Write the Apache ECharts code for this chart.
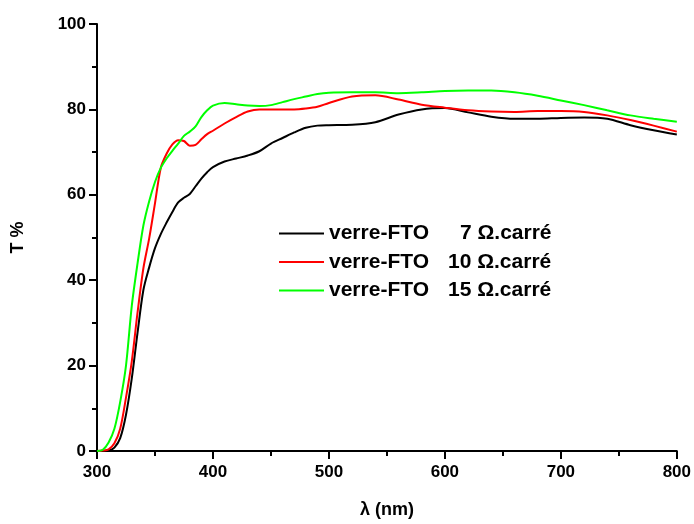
<!DOCTYPE html>
<html>
<head>
<meta charset="utf-8">
<script src="https://cdn.jsdelivr.net/npm/echarts@6/dist/echarts.min.js"></script>
<style>
html,body{margin:0;padding:0;background:#fff;}
#chart{width:694px;height:524px;}
</style>
</head>
<body>
<div id="chart"></div>
<script>
// Wavelength grid (nm)
var wavelengths = [300,305,310,315,320,325,330,335,340,345,350,355,360,365,370,375,380,385,390,395,400,410,420,430,440,450,460,470,480,490,500,520,540,560,580,600,620,640,660,680,700,720,740,760,780,800];

// Transmittance (%)
var fto7 = [0,0,0.1,0.8,3,8.5,17,27.8,37.7,43,47.5,50.8,53.5,56,58.2,59.3,60.2,62,63.8,65.3,66.5,67.8,68.5,69.2,70.2,72,73.3,74.6,75.7,76.2,76.3,76.4,77,78.8,80,80.3,79.3,78.3,77.8,77.8,78,78.1,77.8,76.3,75.1,74.1];
var fto10 = [0,0.1,0.4,1.8,5.2,12.5,21,32.5,42.8,49.8,58,66.3,69.6,71.8,72.8,72.6,71.5,71.7,73,74.2,75,76.7,78.2,79.5,80,80,80,80,80.2,80.6,81.5,83,83.3,82.3,81.1,80.4,79.8,79.5,79.4,79.6,79.6,79.4,78.6,77.5,76.2,74.8];
var fto15 = [0,0.3,2,5.2,11.5,20,34,44,52.8,58.5,63,66.3,68.5,70.3,72,73.8,74.8,76,78.2,79.8,80.9,81.5,81.2,80.9,80.8,81,81.7,82.4,83,83.6,83.9,84,84,83.8,84,84.3,84.4,84.4,84,83.2,82.1,81,79.8,78.6,77.8,77.1];

var seriesPrefix = 'verre-FTO';
var seriesNums = ['7','10','15'];
var seriesUnit = ' Ω.carré';
var seriesColors = ['#000000','#ff0000','#00ff00'];
var seriesData = [fto7, fto10, fto15];

var xTicks = {min:300, max:800, interval:100};
var yTicks = {min:0, max:100, interval:20};

var FONT = 'Liberation Sans, Arial, sans-serif';
var LFS = 21;

function pairs(ys){
  return wavelengths.map(function(x,i){return [x, ys[i]];});
}

var names = seriesNums.map(function(n){return seriesPrefix + ' ' + n + seriesUnit;});

var series = seriesData.map(function(d,i){
  return {
    name: names[i],
    type: 'line',
    data: pairs(d),
    symbol: 'none',
    smooth: 0.3,
    lineStyle: {color: seriesColors[i], width: 2},
    itemStyle: {color: seriesColors[i]},
    animation: false
  };
});

function tk(extra){
  var o = {fontFamily: FONT, fontWeight: 'bold', fontSize: LFS, color: '#000', lineHeight: 20};
  for (var k in extra) o[k] = extra[k];
  return o;
}

var chart = echarts.init(document.getElementById('chart'), null, {renderer:'canvas'});
chart.setOption({
  backgroundColor: '#ffffff',
  animation: false,
  grid: {left: 97, right: 13, top: 24, bottom: 67, containLabel: false},
  legend: {
    orient: 'vertical',
    left: 279,
    top: 223,
    padding: 0,
    itemGap: 7.5,
    itemWidth: 45,
    itemHeight: 2,
    icon: 'rect',
    data: names,
    formatter: function(name){
      var i = names.indexOf(name);
      var sp = seriesNums[i].length === 1 ? 's1' : 's2';
      return '{a|' + seriesPrefix + '}{' + sp + '| }{b|' + seriesNums[i] + '}{c|' + seriesUnit + '}';
    },
    textStyle: {
      fontFamily: FONT, fontWeight: 'bold', fontSize: LFS, color: '#000',
      rich: {
        a: tk({}),
        s1: tk({width: 31}),
        s2: tk({width: 19}),
        b: tk({}),
        c: tk({})
      }
    }
  },
  xAxis: {
    type: 'value',
    min: xTicks.min, max: xTicks.max, interval: xTicks.interval,
    name: 'λ (nm)',
    nameLocation: 'middle',
    nameGap: 50,
    nameTextStyle: {fontFamily: FONT, fontWeight: 'bold', fontSize: 18, color: '#000'},
    axisLine: {show: true, onZero: false, lineStyle: {color: '#000', width: 2}},
    axisTick: {show: true, inside: false, length: 8, lineStyle: {color: '#000', width: 2}},
    minorTick: {show: true, splitNumber: 2, length: 5, lineStyle: {color: '#000', width: 2}},
    splitLine: {show: false},
    axisLabel: {fontFamily: FONT, fontWeight: 'bold', fontSize: 17, color: '#000', margin: 13}
  },
  yAxis: {
    type: 'value',
    min: yTicks.min, max: yTicks.max, interval: yTicks.interval,
    name: 'T %',
    nameLocation: 'middle',
    nameGap: 70,
    nameRotate: 90,
    nameTextStyle: {fontFamily: FONT, fontWeight: 'bold', fontSize: 18, color: '#000'},
    axisLine: {show: true, onZero: false, lineStyle: {color: '#000', width: 2}},
    axisTick: {show: true, inside: false, length: 8, lineStyle: {color: '#000', width: 2}},
    minorTick: {show: true, splitNumber: 2, length: 5, lineStyle: {color: '#000', width: 2}},
    splitLine: {show: false},
    axisLabel: {fontFamily: FONT, fontWeight: 'bold', fontSize: 17, color: '#000', margin: 11}
  },
  series: series
});
</script>
</body>
</html>
